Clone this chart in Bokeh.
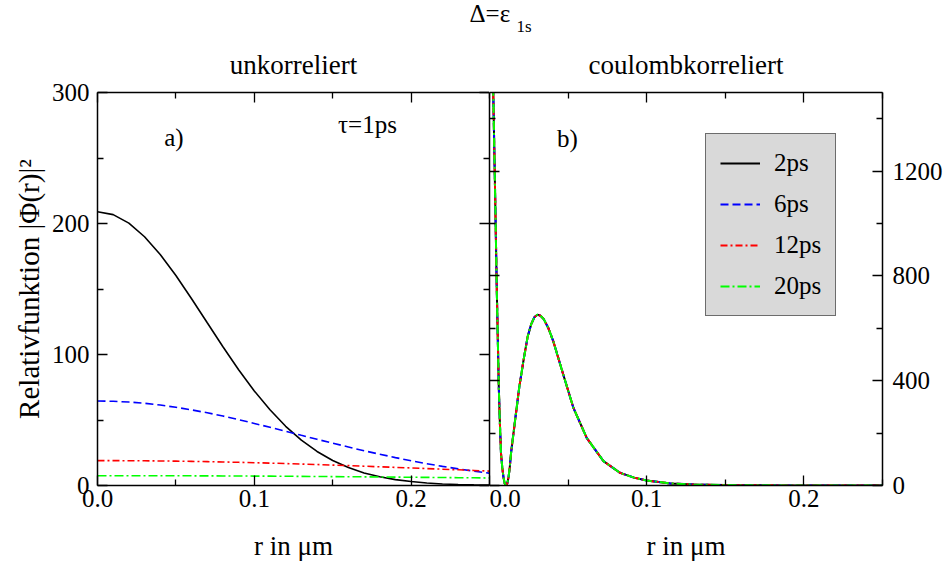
from bokeh.plotting import figure
from bokeh.models import (Range1d, FixedTicker, Label, Legend, LegendItem,
                          LinearAxis, PrintfTickFormatter)
from bokeh.layouts import column, row
from bokeh.embed import file_html
from bokeh.resources import INLINE

FONT = "Liberation Serif"

# ---------------- data ----------------
# panel a) "unkorreliert"
r_left = [0.00, 0.01, 0.02, 0.03, 0.04, 0.05, 0.06, 0.07, 0.08, 0.09, 0.10, 0.11, 0.12,
          0.13, 0.14, 0.15, 0.16, 0.17, 0.18, 0.19, 0.20, 0.21, 0.22, 0.23, 0.24, 0.25]
unk_2ps = [209, 206.8, 200.3, 189.9, 176.3, 160.3, 142.6, 124.2, 105.9, 88.4, 72.2, 57.8, 45.2,
           34.6, 26.0, 19.1, 13.7, 9.6, 6.7, 4.5, 3.0, 1.9, 1.2, 0.8, 0.5, 0.3]
unk_6ps = [64.5, 64.3, 63.7, 62.8, 61.4, 59.7, 57.7, 55.5, 53.0, 50.3, 47.4, 44.4, 41.4,
           38.3, 35.3, 32.3, 29.4, 26.5, 23.9, 21.3, 18.9, 16.6, 14.6, 12.7, 11.0, 9.4]
unk_12ps = [19.0, 18.98, 18.93, 18.85, 18.74, 18.59, 18.41, 18.2, 17.96, 17.70, 17.40, 17.09, 16.75,
            16.38, 16.00, 15.59, 15.18, 14.74, 14.29, 13.84, 13.41, 12.92, 12.45, 11.97, 11.49, 10.98]
unk_20ps = [7.5, 7.5, 7.49, 7.47, 7.45, 7.43, 7.39, 7.35, 7.3, 7.25, 7.19, 7.12, 7.05,
            6.97, 6.89, 6.8, 6.71, 6.61, 6.51, 6.41, 6.3, 6.19, 6.08, 5.97, 5.86, 5.75]

# panel b) "coulombkorreliert" (all four times coincide)
r_right = [0.0, 0.001, 0.0024, 0.0035, 0.0046, 0.0059, 0.0066, 0.0073, 0.0081, 0.0089, 0.0097,
           0.0105, 0.0113, 0.0121, 0.0129, 0.0137, 0.0163, 0.019, 0.0217, 0.0243, 0.0265,
           0.0285, 0.0305, 0.0325, 0.0345, 0.0375, 0.0406, 0.047, 0.0534, 0.0619, 0.0725,
           0.0831, 0.092, 0.1, 0.115, 0.13, 0.15, 0.175, 0.2, 0.25]
coul_2ps = [2300, 1950, 1496, 1140, 759, 378, 240, 124, 70, 31, 7.7,
            0, 7.7, 31, 70, 124, 250, 378, 480, 569, 615,
            642, 652, 648, 635, 600, 550, 422, 296, 181, 93,
            48, 30, 19, 8, 3.5, 1.5, 0.6, 0.2, 0.05]
coul_6ps = coul_2ps
coul_12ps = coul_2ps
coul_20ps = coul_2ps

x_ticks = [0.0, 0.1, 0.2]
x_minor = [0.05, 0.15, 0.25]
left_y_ticks = [0, 100, 200, 300]
left_y_minor = [50, 150, 250]
right_y_ticks = [0, 400, 800, 1200]
right_y_minor = [200, 600, 1000, 1400]
legend_labels = ["2ps", "6ps", "12ps", "20ps"]

colors = ["black", "#0000ff", "#ff0000", "#00ff00"]
dashes = ["solid", "8 4", "7 3 2 3", "9 3 2 3"]


def style_axis(ax, ticks, minor, labels=True, fmt=None):
    ax.ticker = FixedTicker(ticks=ticks, minor_ticks=minor)
    ax.axis_line_color = "black"
    ax.axis_line_width = 1.5
    ax.major_tick_in = 10
    ax.major_tick_out = 0
    ax.minor_tick_in = 6
    ax.minor_tick_out = 0
    ax.major_tick_line_color = "black"
    ax.minor_tick_line_color = "black"
    ax.major_tick_line_width = 1.3
    ax.minor_tick_line_width = 1.3
    ax.axis_label_text_font = FONT
    ax.axis_label_text_font_size = "27px"
    ax.axis_label_text_font_style = "normal"
    ax.axis_label_text_color = "black"
    if labels:
        ax.major_label_text_font = FONT
        ax.major_label_text_font_size = "25px"
        ax.major_label_text_color = "black"
        if fmt:
            ax.formatter = PrintfTickFormatter(format=fmt)
    else:
        ax.major_label_text_font_size = "0px"
        ax.major_label_standoff = 0
        ax.major_label_overrides = {t: "" for t in ticks}


def lab(p, x, y, text, size="25px", **kw):
    p.add_layout(Label(x=x, y=y, text=text, text_font=FONT, text_font_size=size,
                       text_color="black", **kw))


# ---------------- title strip ----------------
pt = figure(width=950, height=80, x_range=Range1d(0, 950), y_range=Range1d(80, 0),
            x_axis_type=None, y_axis_type=None, toolbar_location=None,
            output_backend="svg", min_border=0)
pt.outline_line_color = None
lab(pt, 469, 26, "Δ=ε", size="25px")
lab(pt, 516, 35, "1s", size="17px")
lab(pt, 293, 64, "unkorreliert", size="27px", text_align="center", text_baseline="middle")
lab(pt, 685.5, 64, "coulombkorreliert", size="27px", text_align="center", text_baseline="middle")

# ---------------- panel a) ----------------
p1 = figure(width=489, height=489, x_range=Range1d(0, 0.25), y_range=Range1d(0, 300),
            x_axis_type=None, y_axis_type=None, toolbar_location=None,
            output_backend="svg", min_border_left=97, min_border_right=0,
            min_border_top=12, min_border_bottom=84)
p1.outline_line_color = None
ax = LinearAxis(axis_label="r in μm"); style_axis(ax, x_ticks, x_minor, True, "%.1f")
ax.major_label_standoff = 4; ax.axis_label_standoff = 21
p1.add_layout(ax, "below")
ax = LinearAxis(); style_axis(ax, x_ticks, x_minor, False); p1.add_layout(ax, "above")
ax = LinearAxis(axis_label="Relativfunktion |Φ(r)|²")
style_axis(ax, left_y_ticks, left_y_minor, True)
ax.major_label_standoff = 8; ax.axis_label_standoff = 4
ax.axis_label_text_font_size = "29px"
p1.add_layout(ax, "left")
ax = LinearAxis(); style_axis(ax, left_y_ticks, left_y_minor, False); p1.add_layout(ax, "right")

for ys, c, d in zip([unk_2ps, unk_6ps, unk_12ps, unk_20ps], colors, dashes):
    p1.line(r_left, ys, line_color=c, line_dash=d, line_width=1.6)

lab(p1, 0.0425, 255, "a)")
lab(p1, 0.1534, 265, "τ=1ps")

# ---------------- panel b) ----------------
p2 = figure(width=461, height=489, x_range=Range1d(0, 0.25), y_range=Range1d(0, 1500),
            x_axis_type=None, y_axis_type=None, toolbar_location=None,
            output_backend="svg", min_border_left=0, min_border_right=68,
            min_border_top=12, min_border_bottom=84)
p2.outline_line_color = None
ax = LinearAxis(axis_label="r in μm"); style_axis(ax, x_ticks, x_minor, True, "%.1f")
ax.major_label_standoff = 4; ax.axis_label_standoff = 21
p2.add_layout(ax, "below")
ax = LinearAxis(); style_axis(ax, x_ticks, x_minor, False); p2.add_layout(ax, "above")
ax = LinearAxis(); style_axis(ax, right_y_ticks, right_y_minor, False); p2.add_layout(ax, "left")
ax = LinearAxis(); style_axis(ax, right_y_ticks, right_y_minor, True); ax.major_label_standoff = 10
p2.add_layout(ax, "right")

rends = []
for ys, c, d in zip([coul_2ps, coul_6ps, coul_12ps, coul_20ps], colors, dashes):
    rends.append(p2.line(r_right, ys, line_color=c, line_dash=d, line_width=2))

lab(p2, 0.043, 1273, "b)")

legend = Legend(items=[LegendItem(label=l, renderers=[r]) for l, r in zip(legend_labels, rends)],
                location=(216, 169), background_fill_color="#d9d9d9", background_fill_alpha=1,
                border_line_color="black", border_line_width=1.2,
                label_text_font=FONT, label_text_font_size="25px", label_text_color="black",
                glyph_width=40, glyph_height=30, label_height=30, spacing=11,
                padding=14, label_standoff=14, margin=0)
p2.add_layout(legend)

layout = column(pt, row(p1, p2, spacing=0), spacing=0)
open("out.html", "w").write(file_html(layout, INLINE))
